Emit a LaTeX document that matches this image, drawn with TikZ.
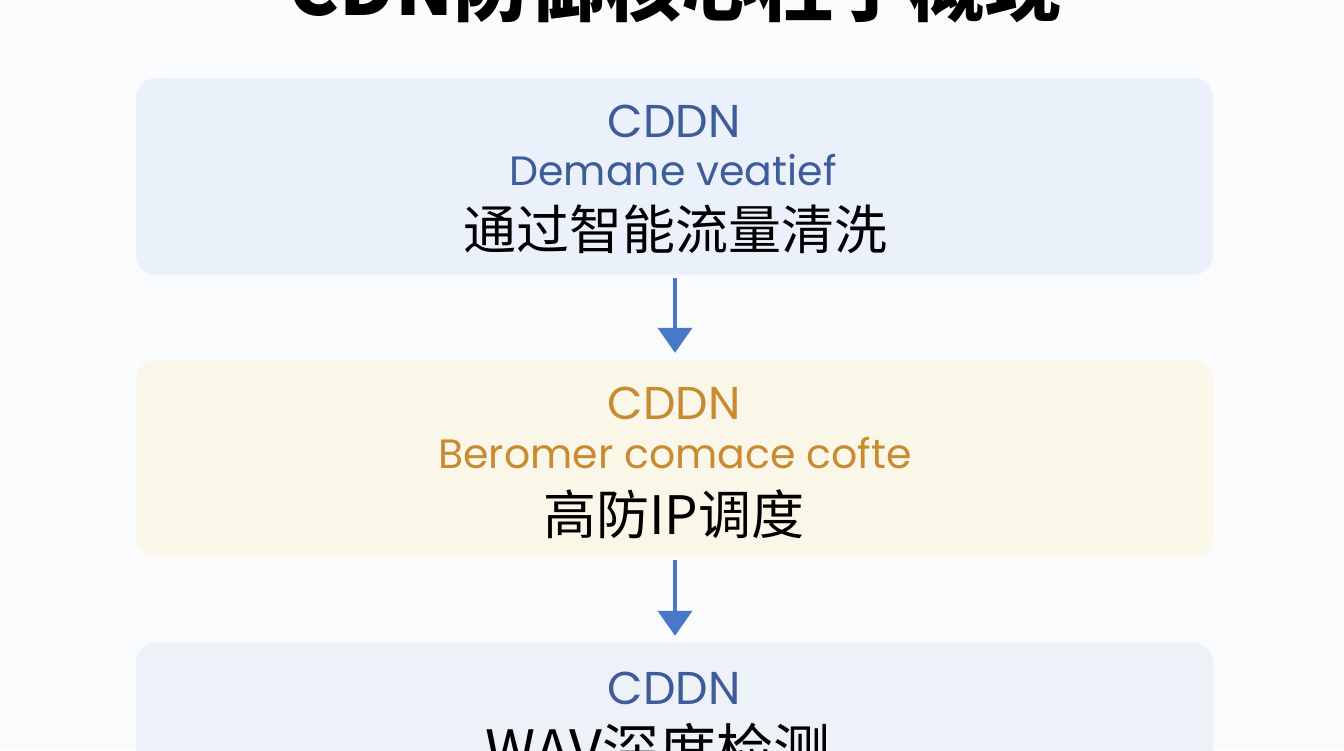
\documentclass[tikz,border=0pt]{standalone}
\usepackage{fontspec}
\setmainfont{Poppins}
\newfontfamily\cjk{Noto Sans CJK SC}
\usetikzlibrary{arrows.meta}
\definecolor{bgc}{HTML}{FAFBFC}
\definecolor{boxblue}{HTML}{EAF1FB}
\definecolor{boxblueb}{HTML}{EDF2F9}
\definecolor{boxcream}{HTML}{FBF7E8}
\definecolor{txtblue}{HTML}{3D5C99}
\definecolor{txtorange}{HTML}{C98B32}
\definecolor{arrowblue}{HTML}{4A78C8}
\tikzset{
  panel/.style={rounded corners=20pt, minimum width=1077pt, minimum height=197pt, inner sep=0pt, draw=none},
  lbl/.style={inner sep=0pt, anchor=center},
  head/.style={lbl, font=\fontsize{46}{50}\selectfont},
  sub/.style={lbl, font=\fontsize{41}{46}\selectfont},
  cn/.style={lbl, font=\cjk\fontsize{53}{58}\selectfont, text=black},
  flow/.style={draw=arrowblue, line width=4pt, -{Triangle[width=34pt,length=25pt]}}
}
\begin{document}
\begin{tikzpicture}[x=1pt,y=-1pt]
\useasboundingbox (0,0) rectangle (1344,750);
\clip (0,0) rectangle (1344,750);
\fill[bgc] (0,0) rectangle (1344,750);
% title
\node[inner sep=0pt, anchor=base, font=\cjk\bfseries\fontsize{76}{80}\selectfont] (title) at (675,15) {CDN防御核心柱子概现};
% panels
\node[panel, fill=boxblue] (p1) at (674.5,176.5) {};
\node[panel, fill=boxcream] (p2) at (674.5,458.5) {};
\node[panel, fill=boxblueb] (p3) at (674.5,741.5) {};
% texts panel 1
\node[head, text=txtblue] (h1) at (674,121) {CDDN};
\node[sub, text=txtblue] (s1) at (673,170) {Demane veatief};
\node[cn] (c1) at (675,229) {通过智能流量清洗};
% texts panel 2
\node[head, text=txtorange] (h2) at (674,403) {CDDN};
\node[sub, text=txtorange] (s2) at (675,453) {Beromer comace cofte};
\node[cn] (c2) at (674,514) {高防IP调度};
% texts panel 3
\node[head, text=txtblue] (h3) at (674,688) {CDDN};
\node[cn, font=\cjk\fontsize{57}{60}\selectfont] (c3) at (658,750) {WAV深度检测};
% arrows
\draw[flow, shorten <=3pt, shorten >=7pt] (p1.south -| 675,0) -- (p2.north -| 675,0);
\draw[flow, shorten <=3pt, shorten >=7pt] (p2.south -| 675,0) -- (p3.north -| 675,0);
\end{tikzpicture}
\end{document}
